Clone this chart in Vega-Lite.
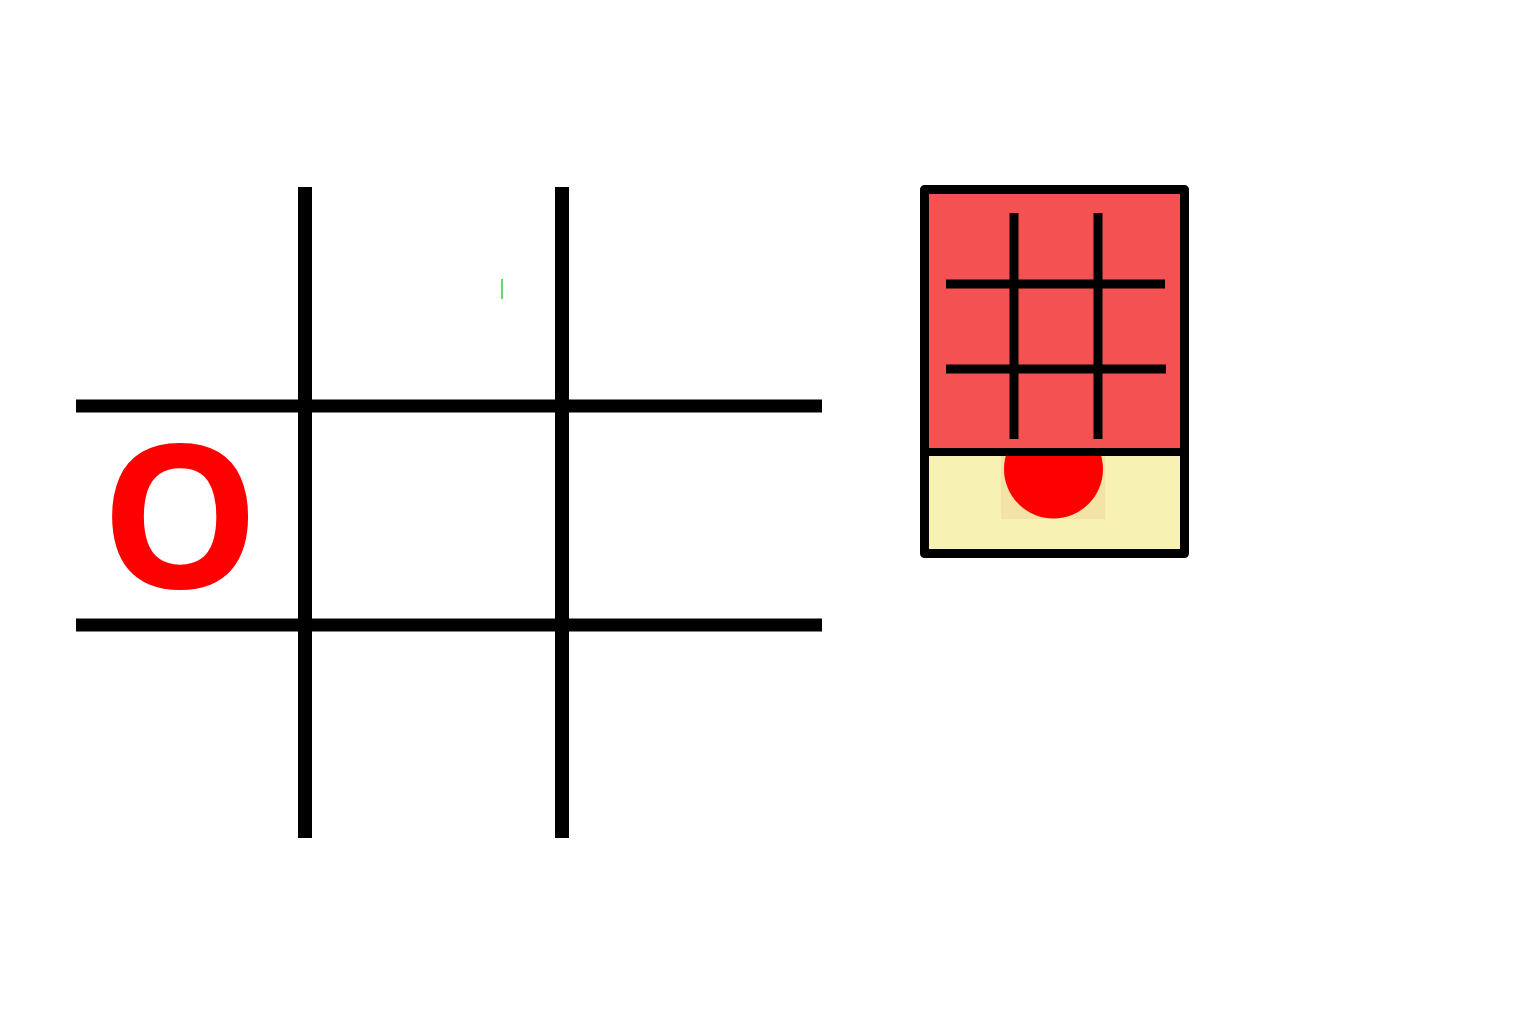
{
  "$schema": "https://vega.github.io/schema/vega-lite/v6.json",
  "width": 1536,
  "height": 1024,
  "autosize": {"type": "fit", "contains": "padding"},
  "padding": 0,
  "background": "white",
  "config": {"view": {"stroke": null}},
  "datasets": {
    "rects": [
      {"name": "bottom", "x": 924, "x2": 1185, "y": 452, "y2": 554, "fill": "#F7F1B4"},
      {"name": "behindCircle", "x": 1001, "x2": 1105, "y": 452, "y2": 519, "fill": "#F4E3A6"}
    ],
    "rectsTop": [
      {"name": "top", "x": 924, "x2": 1185, "y": 189, "y2": 452, "fill": "#F45252"}
    ],
    "circle": [
      {"x": 1053.5, "y": 469, "size": 9800}
    ],
    "lines": [
      {"id": "v1", "x": 305, "y": 187, "x2": 305, "y2": 838, "w": 14, "c": "black"},
      {"id": "v2", "x": 562, "y": 187, "x2": 562, "y2": 838, "w": 14, "c": "black"},
      {"id": "h1", "x": 76, "y": 406, "x2": 822, "y2": 406, "w": 13, "c": "black"},
      {"id": "h2", "x": 76, "y": 625, "x2": 822, "y2": 625, "w": 13, "c": "black"},
      {"id": "green", "x": 502, "y": 279, "x2": 502, "y2": 299, "w": 1.5, "c": "#33cc44"},
      {"id": "div", "x": 920, "y": 452, "x2": 1189, "y2": 452, "w": 8, "c": "black"},
      {"id": "sv1", "x": 1014, "y": 213, "x2": 1014, "y2": 439, "w": 9, "c": "black"},
      {"id": "sv2", "x": 1098, "y": 213, "x2": 1098, "y2": 439, "w": 9, "c": "black"},
      {"id": "sh1", "x": 946, "y": 284, "x2": 1165, "y2": 284, "w": 9, "c": "black"},
      {"id": "sh2", "x": 946, "y": 369, "x2": 1166, "y2": 369, "w": 9, "c": "black"}
    ],
    "frame": [
      {"x": 924.5, "x2": 1184.5, "y": 189.5, "y2": 553.5}
    ],
    "letters": [
      {"x": 180, "y": 588, "t": "O"}
    ]
  },
  "layer": [
    {
      "data": {"name": "rects"},
      "mark": {"type": "rect"},
      "encoding": {
        "x": {"field": "x", "type": "quantitative", "scale": {"domain": [0, 1536], "nice": false, "zero": false}, "axis": null},
        "x2": {"field": "x2"},
        "y": {"field": "y", "type": "quantitative", "scale": {"domain": [0, 1024], "reverse": true, "nice": false, "zero": false}, "axis": null},
        "y2": {"field": "y2"},
        "fill": {"field": "fill", "type": "nominal", "scale": null}
      }
    },
    {
      "data": {"name": "circle"},
      "mark": {"type": "point", "shape": "circle", "filled": true, "color": "#FF0000", "opacity": 1},
      "encoding": {
        "x": {"field": "x", "type": "quantitative"},
        "y": {"field": "y", "type": "quantitative"},
        "size": {"field": "size", "type": "quantitative", "scale": null}
      }
    },
    {
      "data": {"name": "rectsTop"},
      "mark": {"type": "rect"},
      "encoding": {
        "x": {"field": "x", "type": "quantitative"},
        "x2": {"field": "x2"},
        "y": {"field": "y", "type": "quantitative"},
        "y2": {"field": "y2"},
        "fill": {"field": "fill", "type": "nominal", "scale": null}
      }
    },
    {
      "data": {"name": "frame"},
      "mark": {"type": "rect", "fill": null, "stroke": "black", "strokeWidth": 9, "strokeJoin": "round", "fillOpacity": 0},
      "encoding": {
        "x": {"field": "x", "type": "quantitative"},
        "x2": {"field": "x2"},
        "y": {"field": "y", "type": "quantitative"},
        "y2": {"field": "y2"}
      }
    },
    {
      "data": {"name": "lines"},
      "mark": {"type": "rule", "strokeCap": "butt"},
      "encoding": {
        "x": {"field": "x", "type": "quantitative"},
        "x2": {"field": "x2"},
        "y": {"field": "y", "type": "quantitative"},
        "y2": {"field": "y2"},
        "strokeWidth": {"field": "w", "type": "quantitative", "scale": null},
        "color": {"field": "c", "type": "nominal", "scale": null}
      }
    },
    {
      "data": {"name": "letters"},
      "mark": {"type": "text", "font": "Open Sans", "fontWeight": "bold", "fontSize": 200, "align": "center", "baseline": "alphabetic", "color": "#FF0000"},
      "encoding": {
        "x": {"field": "x", "type": "quantitative"},
        "y": {"field": "y", "type": "quantitative"},
        "text": {"field": "t", "type": "nominal"}
      }
    }
  ]
}
